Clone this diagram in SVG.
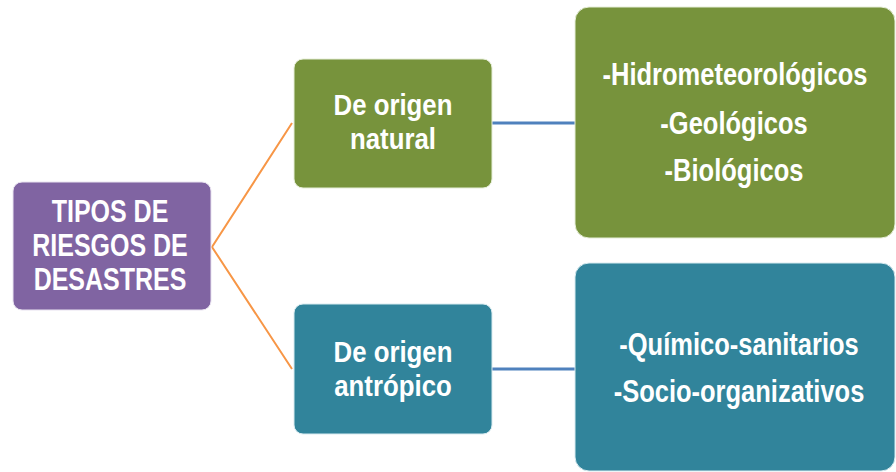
<svg xmlns="http://www.w3.org/2000/svg" width="896" height="472" viewBox="0 0 896 472">
<style>
.t{font-family:"Liberation Sans",Arial,sans-serif;font-weight:bold;fill:#ffffff;text-anchor:middle;}
.s{font-size:25px;}
.m{font-size:25.8px;}
.b{font-size:25.5px;}
.or{stroke:#F79646;stroke-width:2;fill:none;}
.bl{stroke:#4F81BD;stroke-width:3;fill:none;}
</style>
<rect width="896" height="472" fill="#ffffff"/>
<g id="connectors">
<polyline class="or" points="292,123 212,247 292,369"/>
<line class="bl" x1="492" y1="123" x2="575" y2="123"/>
<line class="bl" x1="492" y1="369" x2="575" y2="369"/>
</g>
<g id="root">
<rect x="13" y="182" width="198" height="128" rx="9" fill="#8064A2" stroke="#e8e2f0" stroke-width="1"/>
<text class="t s" transform="translate(110,222) scale(1,1.25)">TIPOS DE</text>
<text class="t s" transform="translate(110,256) scale(1,1.25)">RIESGOS DE</text>
<text class="t s" transform="translate(110,290) scale(1,1.25)">DESASTRES</text>
</g>
<g id="natural">
<rect x="294" y="59" width="198" height="129" rx="9" fill="#77933C" stroke="#e6eed8" stroke-width="1"/>
<text class="t m" transform="translate(393,115) scale(1,1.12)">De origen</text>
<text class="t m" transform="translate(393,149) scale(1,1.12)">natural</text>
</g>
<g id="antropico">
<rect x="294" y="304" width="198" height="130" rx="9" fill="#31849B" stroke="#d8ebf0" stroke-width="1"/>
<text class="t m" transform="translate(393,362) scale(1,1.12)">De origen</text>
<text class="t m" transform="translate(393,396) scale(1,1.12)">antrópico</text>
</g>
<g id="natural-list">
<rect x="575" y="7" width="320" height="231" rx="14" fill="#77933C" stroke="#e6eed8" stroke-width="1"/>
<text class="t b" transform="translate(735,85) scale(1,1.22)">-Hidrometeorológicos</text>
<text class="t b" transform="translate(734,134) scale(1,1.22)">-Geológicos</text>
<text class="t b" transform="translate(734,181) scale(1,1.22)">-Biológicos</text>
</g>
<g id="antropico-list">
<rect x="575" y="263" width="320" height="208" rx="14" fill="#31849B" stroke="#d8ebf0" stroke-width="1"/>
<text class="t b" transform="translate(739,355) scale(1,1.22)">-Químico-sanitarios</text>
<text class="t b" transform="translate(739,402) scale(1,1.22)">-Socio-organizativos</text>
</g>
</svg>
